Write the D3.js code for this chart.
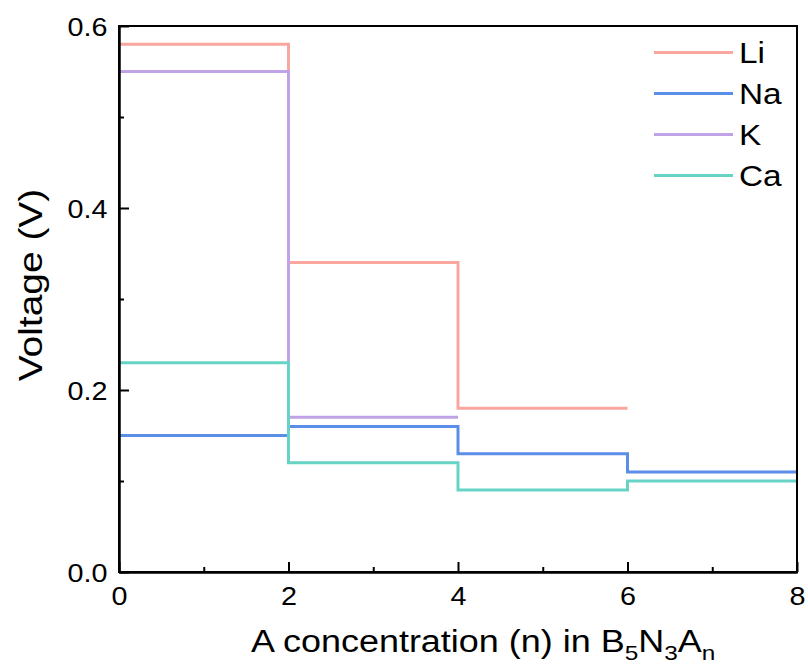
<!DOCTYPE html>
<html>
<head>
<meta charset="utf-8">
<script src="https://cdn.jsdelivr.net/npm/d3@7"></script>
<style>
  html, body { margin: 0; padding: 0; background: #ffffff; }
  svg { display: block; font-family: "Liberation Sans", Arial, sans-serif; }
</style>
</head>
<body>
<svg id="chart" width="808" height="666"></svg>
<script>
// Step edges along the concentration axis (n)
const nEdges = [0, 2, 4, 6, 8];

// Voltage plateau for each interval [nEdges[i], nEdges[i+1]]
const seriesNames = ["Li", "Na", "K", "Ca"];
const liVoltage = [0.58, 0.34, 0.18];
const naVoltage = [0.15, 0.16, 0.13, 0.11];
const kVoltage  = [0.55, 0.17];
const caVoltage = [0.23, 0.12, 0.09, 0.10];
const seriesColors = ["#f9a79e", "#5b8ee6", "#c0a2e6", "#66d3c5"];

// Axis ticks
const xMajorTicks = [0, 2, 4, 6, 8];
const xMinorTicks = [1, 3, 5, 7];
const yMajorTicks = [0.0, 0.2, 0.4, 0.6];
const yMinorTicks = [0.1, 0.3, 0.5];

const SX = 1.15; // horizontal glyph stretch used for text

const svg = d3.select("#chart");
const plotLeft = 119, plotRight = 797, plotTop = 26, plotBottom = 572;

const x = d3.scaleLinear().domain([0, 8]).range([plotLeft, plotRight]);
const y = d3.scaleLinear().domain([0, 0.6]).range([plotBottom, plotTop]);

// Turn plateau values into step points: one point per interval start plus a closing point
function stepPoints(values) {
  const pts = values.map((v, i) => [nEdges[i], v]);
  pts.push([nEdges[values.length], values[values.length - 1]]);
  return pts;
}

const allSeries = [liVoltage, naVoltage, kVoltage, caVoltage].map((vals, i) => ({
  name: seriesNames[i], color: seriesColors[i], points: stepPoints(vals)
}));

const line = d3.line()
  .x(d => x(d[0]))
  .y(d => y(d[1]))
  .curve(d3.curveStepAfter);

svg.append("g").selectAll("path")
  .data(allSeries)
  .join("path")
  .attr("d", d => line(d.points))
  .attr("fill", "none")
  .attr("stroke", d => d.color)
  .attr("stroke-width", 3);

// Frame
svg.append("rect")
  .attr("x", plotLeft).attr("y", plotTop)
  .attr("width", plotRight - plotLeft).attr("height", plotBottom - plotTop)
  .attr("fill", "none").attr("stroke", "#000").attr("stroke-width", 2);

// Y axis (ticks pointing inward)
const yAxis = svg.append("g").attr("transform", `translate(${plotLeft},0)`)
  .call(d3.axisLeft(y).tickValues(yMajorTicks).tickFormat(d3.format(".1f"))
    .tickSizeInner(-10).tickSizeOuter(0).tickPadding(10));
svg.append("g").attr("transform", `translate(${plotLeft},0)`)
  .call(d3.axisLeft(y).tickValues(yMinorTicks).tickFormat("")
    .tickSizeInner(-5).tickSizeOuter(0));

// X axis (ticks pointing inward)
const xAxis = svg.append("g").attr("transform", `translate(0,${plotBottom})`)
  .call(d3.axisBottom(x).tickValues(xMajorTicks).tickFormat(d3.format("d"))
    .tickSizeInner(-10).tickSizeOuter(0).tickPadding(15));
svg.append("g").attr("transform", `translate(0,${plotBottom})`)
  .call(d3.axisBottom(x).tickValues(xMinorTicks).tickFormat("")
    .tickSizeInner(-5).tickSizeOuter(0));

svg.selectAll(".domain").attr("stroke", "#000").attr("stroke-width", 2);
svg.selectAll(".tick line").attr("stroke", "#000").attr("stroke-width", 2);
svg.selectAll(".tick text")
  .attr("fill", "#000")
  .style("font-family", "'Liberation Sans', Arial, sans-serif")
  .style("font-size", "25px")
  .attr("transform", `scale(${SX},1)`);
yAxis.selectAll(".tick text").attr("dy", "0.36em");

// Axis titles
const xTitle = svg.append("text")
  .attr("transform", `translate(251,652) scale(1.16,1)`)
  .style("font-size", "31px").attr("fill", "#000");
xTitle.append("tspan").text("A concentration (n) in B");
xTitle.append("tspan").attr("dy", 8).style("font-size", "21px").text("5");
xTitle.append("tspan").attr("dy", -8).text("N");
xTitle.append("tspan").attr("dy", 8).style("font-size", "21px").text("3");
xTitle.append("tspan").attr("dy", -8).text("A");
xTitle.append("tspan").attr("dy", 8).style("font-size", "21px").text("n");

svg.append("text")
  .attr("transform", `translate(42,285) rotate(-90) scale(1.18,1)`)
  .attr("text-anchor", "middle")
  .style("font-size", "33px").attr("fill", "#000")
  .text("Voltage (V)");

// Legend
const legend = svg.append("g");
const legendY = d3.scalePoint().domain(seriesNames).range([52.5, 175.5]);
const item = legend.selectAll("g")
  .data(allSeries)
  .join("g")
  .attr("transform", d => `translate(0,${legendY(d.name)})`);
item.append("line")
  .attr("x1", 654).attr("x2", 733)
  .attr("stroke", d => d.color).attr("stroke-width", 3);
item.append("text")
  .attr("transform", `translate(739,10.5) scale(1.15,1)`)
  .style("font-size", "29px").attr("fill", "#000")
  .text(d => d.name);
</script>
</body>
</html>
